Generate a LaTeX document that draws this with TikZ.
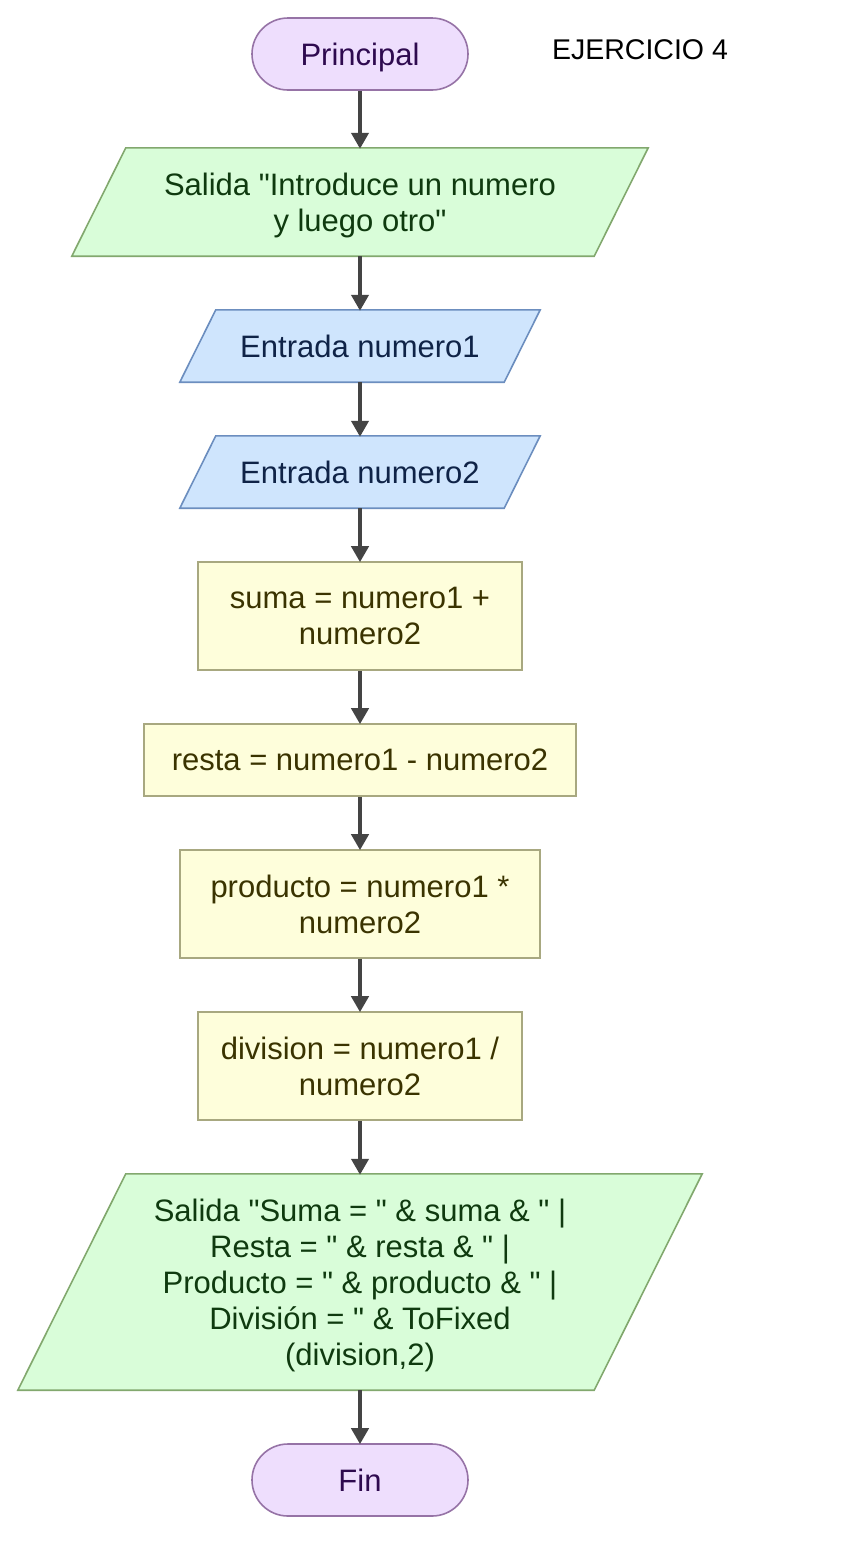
\documentclass[tikz,border=0pt]{standalone}
\usepackage{fontspec}
\setmainfont{Liberation Sans}[Ligatures=TeXOff]
\usetikzlibrary{arrows.meta,backgrounds}
\definecolor{termfill}{HTML}{EEDEFD}
\definecolor{termdraw}{HTML}{9673A6}
\definecolor{termtext}{HTML}{2E0A4F}
\definecolor{outfill}{HTML}{D9FDD9}
\definecolor{outdraw}{HTML}{82A86E}
\definecolor{outtext}{HTML}{0F3A0F}
\definecolor{infill}{HTML}{CFE5FD}
\definecolor{indraw}{HTML}{6C8EBF}
\definecolor{intext}{HTML}{0F2347}
\definecolor{procfill}{HTML}{FEFEDB}
\definecolor{procdraw}{HTML}{A8A880}
\definecolor{proctext}{HTML}{3A3300}
\definecolor{arrowcol}{HTML}{444444}
\tikzset{
  base/.style={font=\fontsize{31}{36}\selectfont, align=center, inner sep=0pt, text depth=0pt},
  terminal/.style={base, draw=termdraw, fill=termfill, text=termtext, line width=1.6pt,
    rounded corners=36pt, minimum width=216pt, minimum height=72pt},
  procbox/.style={base, draw=procdraw, fill=procfill, text=proctext, line width=1.6pt},
  paranode/.style={base},
  outshape/.style={draw=outdraw, fill=outfill, line width=1.6pt},
  inshape/.style={draw=indraw, fill=infill, line width=1.6pt},
  flow/.style={draw=arrowcol, line width=4pt, -{Triangle[width=17pt,length=16pt]}, shorten >=-1pt}
}
\begin{document}
\begin{tikzpicture}[x=1pt,y=-1pt]
\useasboundingbox (0,0) rectangle (855,1556);

\node[terminal] (start) at (360,54) {Principal};
\node[base, text=black, font=\fontsize{28.5}{34}\selectfont] (title) at (640,50) {EJERCICIO 4};

\node[paranode, text=outtext, minimum width=576pt, minimum height=108pt] (out1) at (360,202)
  {Salida "Introduce un numero\\y luego otro"};
\node[paranode, text=intext, minimum width=360pt, minimum height=72pt] (in1) at (360,346)
  {Entrada numero1};
\node[paranode, text=intext, minimum width=360pt, minimum height=72pt] (in2) at (360,472)
  {Entrada numero2};
\node[procbox, minimum width=324pt, minimum height=108pt] (suma) at (360,616)
  {suma = numero1 +\\numero2};
\node[procbox, minimum width=432pt, minimum height=72pt] (resta) at (360,760)
  {resta = numero1 - numero2};
\node[procbox, minimum width=360pt, minimum height=108pt] (prod) at (360,904)
  {producto = numero1 *\\numero2};
\node[procbox, minimum width=324pt, minimum height=108pt] (div) at (360,1066)
  {division = numero1 /\\numero2};
\node[paranode, text=outtext, minimum width=684pt, minimum height=216pt] (out2) at (360,1282)
  {Salida "Suma = " \& suma \& " |\\Resta = " \& resta \& " |\\Producto = " \& producto \& " |\\División = " \& ToFixed\\(division,2)};
\node[terminal] (fin) at (360,1480) {Fin};

\begin{scope}[on background layer]
  \fill[white] (0,0) rectangle (855,1556);
  \draw[outshape] ([xshift=54pt]out1.north west) -- (out1.north east)
    -- ([xshift=-54pt]out1.south east) -- (out1.south west) -- cycle;
  \draw[inshape] ([xshift=36pt]in1.north west) -- (in1.north east)
    -- ([xshift=-36pt]in1.south east) -- (in1.south west) -- cycle;
  \draw[inshape] ([xshift=36pt]in2.north west) -- (in2.north east)
    -- ([xshift=-36pt]in2.south east) -- (in2.south west) -- cycle;
  \draw[outshape] ([xshift=108pt]out2.north west) -- (out2.north east)
    -- ([xshift=-108pt]out2.south east) -- (out2.south west) -- cycle;
\end{scope}

\draw[flow] (start.south) -- (out1.north);
\draw[flow] (out1.south) -- (in1.north);
\draw[flow] (in1.south) -- (in2.north);
\draw[flow] (in2.south) -- (suma.north);
\draw[flow] (suma.south) -- (resta.north);
\draw[flow] (resta.south) -- (prod.north);
\draw[flow] (prod.south) -- (div.north);
\draw[flow] (div.south) -- (out2.north);
\draw[flow] (out2.south) -- (fin.north);
\end{tikzpicture}
\end{document}
